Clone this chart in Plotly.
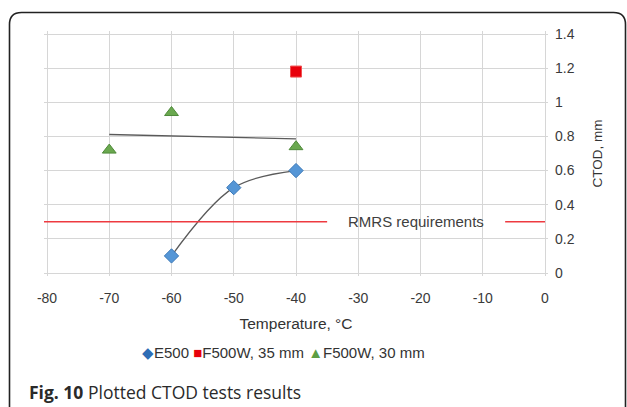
import numpy as np
import plotly.graph_objects as go

# ---- data ----
e500_temp = [-60, -50, -40]
e500_ctod = [0.10, 0.50, 0.60]

f35_temp = [-40]
f35_ctod = [1.18]

f30_temp = [-70, -60, -40]
f30_ctod = [0.72, 0.94, 0.74]

rmrs_level = 0.3
rmrs_label = "RMRS requirements"
rmrs_segments = [(-80.5, -35.0), (-6.4, 0.0)]
rmrs_label_x = -20.7

x_ticks = [-80, -70, -60, -50, -40, -30, -20, -10, 0]
x_ticktext = ["-80", "-70", "-60", "-50", "-40", "-30", "-20", "-10", "0"]
y_ticks = [0, 0.2, 0.4, 0.6, 0.8, 1.0, 1.2, 1.4]
y_ticktext = ["0", "0.2", "0.4", "0.6", "0.8", "1", "1.2", "1.4"]

legend_names = ["E500", "F500W, 35 mm", "F500W, 30 mm"]
legend_glyphs = ["◆", "■", "▲"]
legend_colors = ["#2f6db5", "#e8000b", "#5e9e44"]

W, H = 627, 407
# plot area is padded 3 px on every side beyond the -80..0 / 0..1.4 span
PAD = 3
L, R, T, B = 47 - PAD, 82 - PAD, 34 - PAD, 134 - PAD
PW, PH = W - L - R, H - T - B
xpad = 80 / (PW - 2 * PAD) * PAD
ypad = 1.4 / (PH - 2 * PAD) * PAD


def px(X):
    return (X - L) / PW


def py(Y):
    return (H - B - Y) / PH


fig = go.Figure()

# E500 smoothed line
fig.add_trace(go.Scatter(x=e500_temp, y=e500_ctod, mode="lines",
                         line=dict(color="#5a5a5a", width=1.3, shape="spline", smoothing=1.0),
                         showlegend=False, hoverinfo="skip"))

# Linear trend of F500W 30 mm
coef = np.polyfit(f30_temp, f30_ctod, 1)
tx = [min(f30_temp), max(f30_temp)]
fig.add_trace(go.Scatter(x=tx, y=list(np.polyval(coef, tx)), mode="lines",
                         line=dict(color="#5a5a5a", width=1.3),
                         showlegend=False, hoverinfo="skip"))

# RMRS requirement line
for a, b in rmrs_segments:
    fig.add_trace(go.Scatter(x=[a, b], y=[rmrs_level, rmrs_level], mode="lines",
                             line=dict(color="#ee3a40", width=1.5),
                             showlegend=False, hoverinfo="skip", cliponaxis=False))

fig.add_trace(go.Scatter(x=e500_temp, y=e500_ctod, mode="markers", name=legend_names[0],
                         marker=dict(symbol="diamond", size=11, color="#5596d6",
                                     line=dict(color="#3a78b8", width=1)),
                         cliponaxis=False, showlegend=False))
fig.add_trace(go.Scatter(x=f35_temp, y=f35_ctod, mode="markers", name=legend_names[1],
                         marker=dict(symbol="square", size=11, color="#e8000b",
                                     line=dict(color="#f05050", width=1)),
                         cliponaxis=False, showlegend=False))
fig.add_trace(go.Scatter(x=f30_temp, y=f30_ctod, mode="markers", name=legend_names[2],
                         marker=dict(symbol="triangle-up", size=12, color="#6aa84f",
                                     line=dict(color="#4f8a3a", width=1)),
                         cliponaxis=False, showlegend=False))

fig.add_annotation(x=rmrs_label_x, y=rmrs_level, text=rmrs_label, showarrow=False,
                   font=dict(family="Liberation Sans", size=15, color="#404040"),
                   xanchor="center", yanchor="middle")

# Legend (compact, Excel style)
legend_text = " ".join(
    f'<span style="color:{c}">{g}</span>{n}'
    for g, n, c in zip(legend_glyphs, legend_names, legend_colors))
fig.add_annotation(xref="paper", yref="paper", x=px(283), y=py(352), text=legend_text,
                   showarrow=False, xanchor="center", yanchor="middle",
                   font=dict(family="Liberation Sans", size=15, color="#333333"))

# Caption
fig.add_annotation(xref="paper", yref="paper", x=px(27), y=py(392),
                   text="<b>Fig. 10</b> Plotted CTOD tests results", showarrow=False,
                   xanchor="left", yanchor="middle",
                   font=dict(family="Open Sans", size=17.5, color="#2a2a2a"))

# Rounded frame (open at the bottom)
x0, x1, y0, ybot, r = 9.5, 625.5, 12.5, 420, 12
path = (f"M {px(x0)},{py(ybot)} L {px(x0)},{py(y0 + r)} "
        f"Q {px(x0)},{py(y0)} {px(x0 + r)},{py(y0)} "
        f"L {px(x1 - r)},{py(y0)} Q {px(x1)},{py(y0)} {px(x1)},{py(y0 + r)} "
        f"L {px(x1)},{py(ybot)}")
fig.add_shape(type="path", path=path, xref="paper", yref="paper",
              line=dict(color="#222222", width=1.6))

axis_font = dict(family="Liberation Sans", size=14, color="#3a3a3a")

fig.update_xaxes(range=[-80 - xpad, 0 + xpad], tickvals=x_ticks, ticktext=x_ticktext,
                 showgrid=True, gridcolor="#d6d6d6",
                 gridwidth=1, zeroline=False, showline=False,
                 ticks="", tickfont=axis_font, ticklabelstandoff=12,
                 title=dict(text="Temperature, °C",
                            font=dict(family="Liberation Sans", size=15.5, color="#333333"),
                            standoff=13))
fig.update_yaxes(range=[-ypad, 1.4 + ypad], tickvals=y_ticks, ticktext=y_ticktext,
                 side="right", showgrid=True, gridcolor="#d6d6d6",
                 gridwidth=1, zeroline=False, showline=False,
                 ticks="", tickfont=axis_font, ticklabelstandoff=6,
                 title=dict(text="CTOD, mm",
                            font=dict(family="Liberation Sans", size=13.5, color="#333333"),
                            standoff=18))

fig.update_layout(
    width=W, height=H,
    margin=dict(l=L, r=R, t=T, b=B),
    paper_bgcolor="white", plot_bgcolor="white",
    showlegend=False,
)

fig.write_html("out.html")
